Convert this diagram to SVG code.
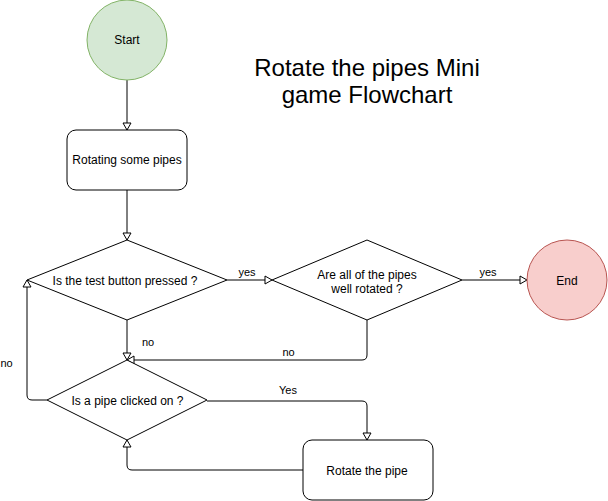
<svg xmlns="http://www.w3.org/2000/svg" width="608" height="501" viewBox="0 0 608 501">
<defs>
<marker id="arr" markerUnits="userSpaceOnUse" markerWidth="10" markerHeight="10" refX="7.5" refY="4.5" orient="auto" overflow="visible">
<path d="M0.5,0.5 L7.5,4.5 L0.5,8.5 Z" fill="#ffffff" stroke="#000000" stroke-width="1"/>
</marker>
</defs>
<style>
text{font-family:"Liberation Sans",Arial,Helvetica,sans-serif;fill:#000000;}
.node{font-size:12px;text-anchor:middle;}
.lbl{font-size:11px;text-anchor:middle;}
.shape{fill:#ffffff;stroke:#000000;stroke-width:1;}
.edge{fill:none;stroke:#000000;stroke-width:1;marker-end:url(#arr);}
.title{font-size:24px;text-anchor:middle;}
</style>
<rect width="608" height="501" fill="#ffffff"/>

<g id="connectors">
<path class="edge" d="M127,80 L127,130"/>
<path class="edge" d="M127,190 L127,240"/>
<path class="edge" d="M227,280 L272,280"/>
<path class="edge" d="M462,280 L527,280"/>
<path class="edge" d="M127,320 L127,360"/>
<path class="edge" d="M367,320 L367,355 Q367,360 362,360 L127,360"/>
<path class="edge" d="M47,400 L32,400 Q27,400 27,395 L27,280"/>
<path class="edge" d="M207,401 L362,401 Q367,401 367,406 L367,440"/>
<path class="edge" d="M303,470 L132,470 Q127,470 127,465 L127,440"/>
<text class="lbl" x="247" y="275.5">yes</text>
<text class="lbl" x="488" y="275.5">yes</text>
<text class="lbl" x="148" y="345.5">no</text>
<text class="lbl" x="288.5" y="355.5">no</text>
<text class="lbl" x="6.5" y="367">no</text>
<text class="lbl" x="288" y="394">Yes</text>
</g>

<g id="start">
<circle cx="127" cy="40" r="40" fill="#d5e8d4" stroke="#82b366" stroke-width="1"/>
<text class="node" x="127" y="44">Start</text>
</g>

<g id="rotating">
<rect class="shape" x="67" y="130" width="120" height="60" rx="9" ry="9"/>
<text class="node" x="127" y="164">Rotating some pipes</text>
</g>

<g id="test-button">
<path class="shape" d="M127,240 L227,280 L127,320 L27,280 Z"/>
<text class="node" x="125" y="284.5">Is the test button pressed ?</text>
</g>

<g id="well-rotated">
<path class="shape" d="M367,240 L462,280 L367,320 L272,280 Z"/>
<text class="node" x="367" y="278.5">Are all of the pipes</text>
<text class="node" x="367" y="292.5">well rotated ?</text>
</g>

<g id="end">
<circle cx="567" cy="280" r="40" fill="#f8cecc" stroke="#b85450" stroke-width="1"/>
<text class="node" x="567" y="284.5">End</text>
</g>

<g id="pipe-clicked">
<path class="shape" d="M127,360 L207,400 L127,440 L47,400 Z"/>
<text class="node" x="127.5" y="405">Is a pipe clicked on ?</text>
</g>

<g id="rotate-pipe">
<rect class="shape" x="303" y="440" width="130" height="60" rx="9" ry="9"/>
<text class="node" x="367" y="474.5">Rotate the pipe</text>
</g>

<g id="title">
<text class="title" x="367" y="76">Rotate the pipes Mini</text>
<text class="title" x="367" y="103">game Flowchart</text>
</g>
</svg>
